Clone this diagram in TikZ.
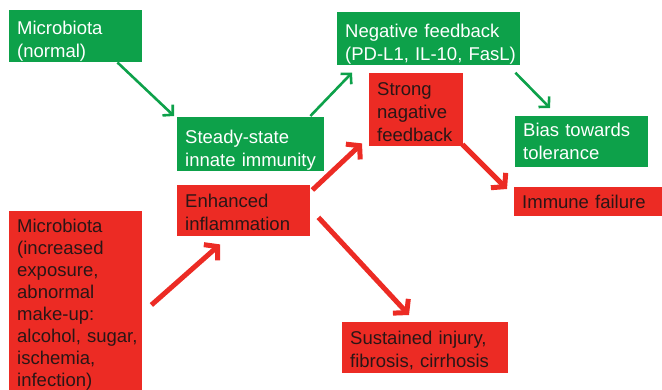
\documentclass[tikz,border=0pt]{standalone}
\usepackage{fontspec}
\setmainfont{Liberation Sans}
\usepackage{xcolor}
\usetikzlibrary{arrows.meta,calc}

\definecolor{boxgreen}{HTML}{0DA14A}
\definecolor{boxred}{HTML}{EC2B24}
\definecolor{redtext}{HTML}{2A1616}

\tikzset{
  gbox/.style={fill=boxgreen,text=white,anchor=north west,align=left,
    inner xsep=8pt,inner ysep=0pt,font=\fontsize{18.5}{23}\selectfont},
  rbox/.style={fill=boxred,text=redtext,anchor=north west,align=left,
    inner xsep=8pt,inner ysep=0pt,font=\fontsize{18.5}{23}\selectfont},
  pushdown/.style={execute at begin node={\rule{0pt}{#1}}},
  garrow/.style={draw=boxgreen,line width=2.6pt,
    -{Straight Barb[length=7pt,width=15pt]}},
  rarrow/.style={draw=boxred,line width=5pt,
    -{Straight Barb[length=9pt,width=21pt]}}
}

\begin{document}
\begin{tikzpicture}[x=1pt,y=-1pt]
    \useasboundingbox (0,0) rectangle (662,390);
    \clip (0,0) rectangle (662,390);
    % green path
    \node[gbox,pushdown=23.5pt,text width=117pt,minimum height=52pt] (micn) at (9,10)
      {Microbiota\\(normal)};
    \node[gbox,pushdown=26.5pt,text width=131pt,minimum height=51pt] (steady) at (177,117)
      {Steady-state\\\mbox{innate immunity}};
    \node[gbox,pushdown=25.5pt,text width=167pt,minimum height=50pt] (negfb) at (337,12)
      {\mbox{Negative feedback}\\\mbox{(PD-L1, IL-10, FasL)}};
    \node[gbox,text width=117pt,minimum height=51pt] (bias) at (515,116)
      {\mbox{Bias towards}\\tolerance};
    % red path
    \node[rbox,pushdown=16.5pt,text width=117pt,minimum height=51pt] (enhanced) at (177,185)
      {Enhanced\\inflammation};
    \node[rbox,pushdown=18.5pt,text width=78pt,minimum height=73pt] (strong) at (369,73)
      {Strong\\nagative\\feedback};
    \node[rbox,text width=134pt,minimum height=29pt] (failure) at (514,187)
      {\mbox{Immune failure}};
    \node[rbox,pushdown=18.5pt,text width=150pt,minimum height=51pt] (injury) at (342,322)
      {\mbox{Sustained injury,}\\\mbox{fibrosis, cirrhosis}};
    \node[rbox,text width=117pt,inner ysep=8pt,
      font=\fontsize{18.5}{22}\selectfont] (micab) at (9,211)
      {Microbiota\\(increased\\exposure,\\abnormal\\make-up:\\\mbox{alcohol, sugar,}\\ischemia,\\infection)};
    % green arrows
    \draw[garrow] ($(micn.south east)+(-25,0)$) -- ($(steady.north west)+(-3,-1)$);
    \draw[garrow] ($(steady.north east)+(-14,-1)$) -- ($(negfb.south west)+(15,8)$);
    \draw[garrow] ($(negfb.south east)+(-5,8)$) -- ($(bias.north west)+(35,-8)$);
    % red arrows
    \draw[rarrow] ($(micab.north east)+(9,94)$) -- ($(enhanced.south west)+(43,8)$);
    \draw[rarrow] ($(enhanced.north east)+(2,5)$) -- ($(strong.south west)+(-7,-3)$);
    \draw[rarrow] ($(enhanced.south east)+(8,-19)$) -- ($(injury.north west)+(67,-7)$);
    \draw[rarrow] ($(strong.south east)+(-1,-2)$) -- ($(failure.north west)+(-7,2)$);
\end{tikzpicture}
\end{document}
